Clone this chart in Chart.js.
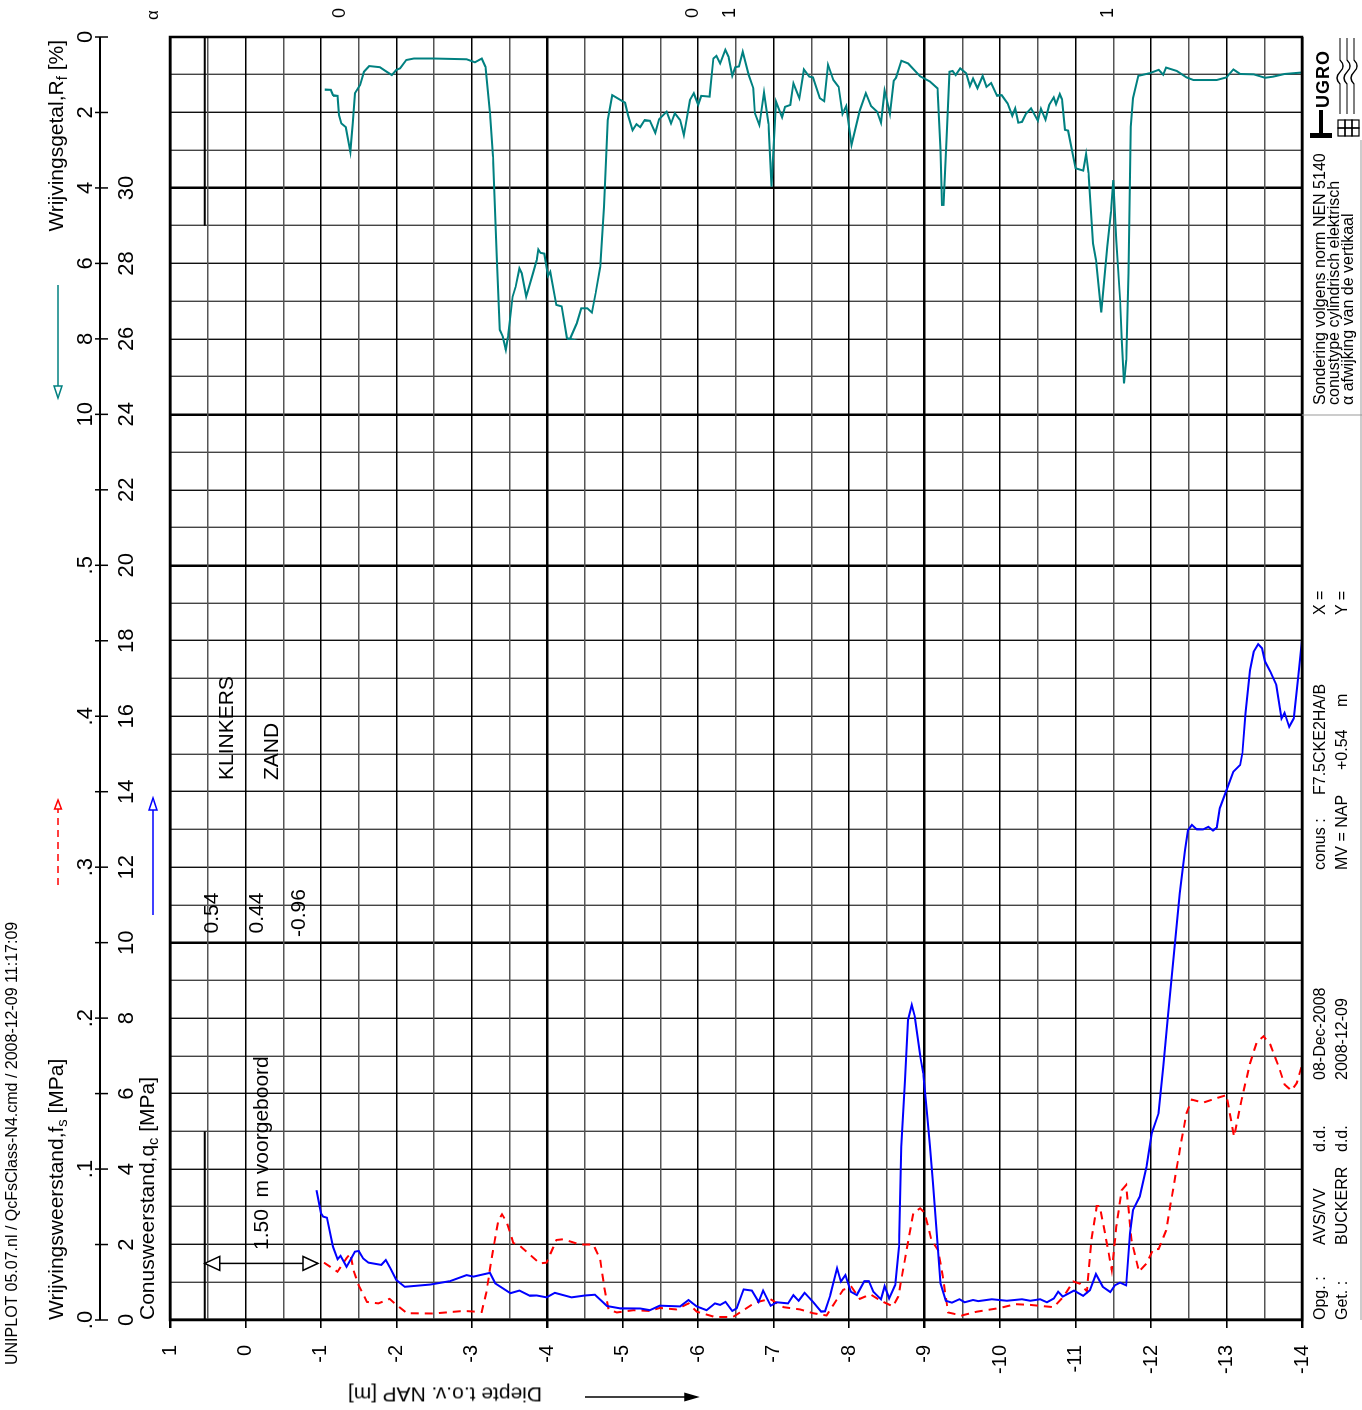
<!DOCTYPE html>
<html>
<head>
<meta charset="utf-8">
<script src="https://cdn.jsdelivr.net/npm/chart.js@4.4.0/dist/chart.umd.min.js"></script>
<style>
  html, body { margin: 0; padding: 0; background: #fff; overflow: hidden; }
  body { width: 1362px; height: 1410px; position: relative; }
  /* the sheet is laid out upright (1410 x 1362) and turned a quarter left */
  #page { position: absolute; left: 0; top: 0; width: 1410px; height: 1362px;
          transform-origin: 0 0; transform: translate(0, 1410px) rotate(-90deg);
          font-family: "Liberation Sans", Arial, sans-serif; color: #000; }
  #page canvas { position: absolute; left: 0; top: 0; }
  .t { position: absolute; white-space: pre; line-height: 1; transform: translateY(-50%); }
  .t sub { font-size: 70%; vertical-align: -0.3em; line-height: 0; }
  .f21 { font-size: 21px; }
  .f16 { font-size: 16px; }
</style>
</head>
<body>
<div id="page">
  <canvas id="cpt" width="1410" height="1362"></canvas>

  <div class="t" style="left:45px; top:12px; font-size:16px;">UNIPLOT 05.07.nl / QcFsClass-N4.cmd / 2008-12-09 11:17:09</div>

  <div class="t f21" style="right:40px; top:55px;">Wrijvingsgetal,R<sub>f</sub> [%]</div>
  <div class="t f21" style="left:90px; top:55px;">Wrijvingsweerstand,f<sub>s</sub> [MPa]</div>
  <div class="t f21" style="left:90px; top:146px;">Conusweerstand,q<sub>c</sub> [MPa]</div>
  <div class="t f21" style="left:15px; top:445px; transform: translate(-50%,-50%) rotate(-90deg);">Diepte t.o.v. NAP [m]</div>

  <div class="t f21" style="left:630px; top:225px;">KLINKERS</div>
  <div class="t f21" style="left:630px; top:270px;">ZAND</div>
  <div class="t f21" style="left:497px; top:210px; transform: translate(-50%,-50%);">0.54</div>
  <div class="t f21" style="left:497px; top:255px; transform: translate(-50%,-50%);">0.44</div>
  <div class="t f21" style="left:497px; top:297px; transform: translate(-50%,-50%);">-0.96</div>
  <div class="t f21" style="left:160px; top:260px;">1.50  m voorgeboord</div>

  <div class="t" style="left:1390px; top:152px; font-size:17px;">&alpha;</div>

  <!-- title block -->
  <div class="t f16" style="left:90px; top:1320px;">Opg. :</div>
  <div class="t f16" style="left:90px; top:1342px;">Get. :</div>
  <div class="t f16" style="left:165px; top:1320px;">AVS/VV</div>
  <div class="t f16" style="left:165px; top:1342px;">BUCKERR</div>
  <div class="t f16" style="left:258px; top:1320px;">d.d.</div>
  <div class="t f16" style="left:258px; top:1342px;">d.d.</div>
  <div class="t f16" style="left:330px; top:1320px;">08-Dec-2008</div>
  <div class="t f16" style="left:330px; top:1342px;">2008-12-09</div>
  <div class="t f16" style="left:540px; top:1320px;">conus :</div>
  <div class="t f16" style="left:540px; top:1342px;">MV = NAP</div>
  <div class="t f16" style="left:615px; top:1320px;">F7.5CKE2HA/B</div>
  <div class="t f16" style="left:640px; top:1342px;">+0.54</div>
  <div class="t f16" style="left:703px; top:1342px;">m</div>
  <div class="t f16" style="left:795px; top:1320px;">X =</div>
  <div class="t f16" style="left:795px; top:1342px;">Y =</div>
  <div class="t f16" style="left:1005px; top:1320px;">Sondering volgens norm NEN 5140</div>
  <div class="t f16" style="left:1005px; top:1334px;">conustype cylindrisch elektrisch</div>
  <div class="t f16" style="left:1005px; top:1348px;">&alpha; afwijking van de vertikaal</div>

  <svg style="position:absolute; left:1268px; top:1306px;" width="110" height="56" viewBox="0 0 110 56">
    <rect x="4" y="4" width="5" height="22" fill="#000"/>
    <rect x="4" y="13" width="28" height="4" fill="#000"/>
    <text x="34" y="23" font-family="Liberation Sans, Arial" font-weight="bold" font-size="18" letter-spacing="1">UGRO</text>
    <g fill="none" stroke="#000" stroke-width="1.2">
      <rect x="6" y="32" width="8" height="7"/><rect x="14" y="32" width="8" height="7"/>
      <rect x="6" y="39" width="8" height="7"/><rect x="14" y="39" width="8" height="7"/>
      <rect x="6" y="46" width="8" height="7"/><rect x="14" y="46" width="8" height="7"/>
      <path d="M28 34 H58 Q64 28 70 34 Q76 40 82 34 H104"/>
      <path d="M28 41 H58 Q64 35 70 41 Q76 47 82 41 H104"/>
      <path d="M28 48 H58 Q64 42 70 48 Q76 54 82 48 H104"/>
    </g>
  </svg>
</div>

<script>
// depth in m NAP, qc in MPa
const qcDepth = [-0.94, -1.00, -1.03, -1.08, -1.16, -1.22, -1.26, -1.34, -1.39, -1.45, -1.50, -1.56, -1.63, -1.80, -1.86, -1.92,
  -2.00, -2.11, -2.45, -2.71, -2.93, -3.02, -3.24, -3.31, -3.51, -3.63, -3.77, -3.86, -3.99, -4.10, -4.32, -4.50, -4.63, -4.79,
  -4.96, -5.05, -5.23, -5.36, -5.49, -5.76, -5.87, -5.98, -6.11, -6.22, -6.29, -6.36, -6.45, -6.51, -6.60, -6.71, -6.80, -6.86,
  -6.96, -7.04, -7.19, -7.26, -7.33, -7.41, -7.52, -7.63, -7.68, -7.75, -7.84, -7.89, -7.95, -8.02, -8.10, -8.20, -8.26, -8.32,
  -8.42, -8.47, -8.53, -8.61, -8.66, -8.69, -8.74, -8.78, -8.83, -8.87, -8.94, -8.98, -9.03, -9.07, -9.11, -9.16, -9.21, -9.28,
  -9.36, -9.46, -9.53, -9.64, -9.71, -9.89, -10.09, -10.29, -10.40, -10.53, -10.62, -10.71, -10.77, -10.83, -10.98, -11.10,
  -11.19, -11.27, -11.36, -11.46, -11.52, -11.59, -11.67, -11.72, -11.76, -11.85, -11.94, -12.01, -12.10, -12.16, -12.22,
  -12.32, -12.38, -12.45, -12.49, -12.54, -12.60, -12.69, -12.76, -12.82, -12.87, -12.91, -13.00, -13.09, -13.18, -13.21,
  -13.25, -13.31, -13.36, -13.42, -13.47, -13.51, -13.58, -13.66, -13.73, -13.77, -13.83, -13.89, -13.95, -14.00];
const qcValues = [3.44, 2.83, 2.74, 2.71, 1.94, 1.61, 1.70, 1.41, 1.59, 1.81, 1.83, 1.63, 1.52, 1.46, 1.59, 1.37,
  1.06, 0.88, 0.94, 1.03, 1.19, 1.15, 1.25, 0.97, 0.71, 0.78, 0.64, 0.65, 0.60, 0.72, 0.60, 0.65, 0.67, 0.37,
  0.31, 0.31, 0.30, 0.26, 0.38, 0.36, 0.53, 0.36, 0.26, 0.44, 0.40, 0.48, 0.24, 0.31, 0.81, 0.78, 0.48, 0.78,
  0.38, 0.47, 0.44, 0.66, 0.51, 0.72, 0.48, 0.22, 0.23, 0.66, 1.37, 1.02, 1.19, 0.75, 0.66, 1.03, 1.03, 0.75,
  0.55, 0.90, 0.57, 0.93, 1.94, 4.59, 6.36, 7.95, 8.35, 8.04, 7.00, 6.54, 5.48, 4.59, 3.62, 2.30, 0.97, 0.51,
  0.46, 0.55, 0.47, 0.53, 0.50, 0.55, 0.51, 0.55, 0.51, 0.55, 0.47, 0.57, 0.75, 0.62, 0.78, 0.64,
  0.79, 1.22, 0.88, 0.74, 0.92, 0.99, 0.92, 2.30, 2.91, 3.27, 4.06, 4.95, 5.48, 6.71, 8.00,
  10.07, 11.31, 12.45, 12.98, 13.12, 13.01, 13.00, 13.07, 12.97, 13.05, 13.56, 14.04, 14.53, 14.71, 15.02,
  16.08, 17.22, 17.71, 17.91, 17.80, 17.45, 17.18, 16.83, 15.94, 16.09, 15.72, 15.94, 17.05, 18.02];

// fs in MPa
const fsDepth = [-1.04, -1.22, -1.34, -1.39, -1.43, -1.50, -1.61, -1.76, -1.91, -2.00, -2.14, -2.49, -2.89, -3.13, -3.19,
  -3.28, -3.35, -3.40, -3.46, -3.55, -3.64, -3.90, -3.99, -4.12, -4.21, -4.43, -4.61, -4.70, -4.76, -4.81, -4.92, -5.14,
  -5.36, -5.49, -5.71, -5.87, -5.98, -6.22, -6.46, -6.60, -6.75, -6.95, -7.13, -7.35, -7.52, -7.70, -7.79, -7.92, -8.03,
  -8.14, -8.28, -8.41, -8.58, -8.65, -8.76, -8.85, -8.94, -9.00, -9.09, -9.18, -9.24, -9.31, -9.49, -9.69, -10.00, -10.20,
  -10.40, -10.71, -10.84, -10.97, -11.06, -11.15, -11.21, -11.28, -11.32, -11.39, -11.48, -11.54, -11.61, -11.67, -11.74,
  -11.84, -11.94, -12.03, -12.10, -12.20, -12.29, -12.38, -12.47, -12.54, -12.69, -12.87, -13.00, -13.10, -13.20, -13.31,
  -13.40, -13.49, -13.58, -13.69, -13.77, -13.86, -13.93, -14.00];
const fsValues = [0.038, 0.032, 0.041, 0.044, 0.033, 0.023, 0.012, 0.011, 0.014, 0.010, 0.0045, 0.0043, 0.006, 0.0053, 0.018,
  0.046, 0.066, 0.070, 0.065, 0.051, 0.049, 0.0375, 0.038, 0.053, 0.0535, 0.050, 0.050, 0.040, 0.020, 0.007, 0.005, 0.0065,
  0.006, 0.008, 0.007, 0.011, 0.0055, 0.002, 0.002, 0.0065, 0.0115, 0.014, 0.0085, 0.007, 0.0045, 0.003, 0.010, 0.020, 0.022,
  0.014, 0.017, 0.013, 0.009, 0.0155, 0.046, 0.071, 0.074, 0.071, 0.053, 0.046, 0.029, 0.005, 0.003, 0.0055, 0.008, 0.0105,
  0.010, 0.0085, 0.0155, 0.0255, 0.024, 0.019, 0.053, 0.0755, 0.0755, 0.0575, 0.033, 0.062, 0.086, 0.0895, 0.053,
  0.032, 0.0375, 0.047, 0.047, 0.0595, 0.086, 0.1125, 0.137, 0.146, 0.144, 0.147, 0.149, 0.1215, 0.146, 0.170,
  0.184, 0.188, 0.1825, 0.168, 0.156, 0.152, 0.157, 0.169];

// Rf in %
const rfDepth = [-1.05, -1.13, -1.16, -1.22, -1.24, -1.27, -1.33, -1.39, -1.42, -1.45, -1.52, -1.57, -1.64, -1.78, -1.87,
  -1.94, -2.00, -2.05, -2.13, -2.23, -2.49, -2.93, -3.04, -3.13, -3.18, -3.24, -3.28, -3.33, -3.37, -3.41, -3.45, -3.48,
  -3.54, -3.58, -3.63, -3.66, -3.72, -3.81, -3.86, -3.88, -3.91, -3.96, -4.01, -4.04, -4.12, -4.19, -4.26, -4.30, -4.39,
  -4.45, -4.53, -4.59, -4.64, -4.70, -4.75, -4.80, -4.86, -4.97, -5.03, -5.07, -5.13, -5.18, -5.23, -5.29, -5.36, -5.43,
  -5.48, -5.58, -5.64, -5.69, -5.76, -5.81, -5.89, -5.94, -6.00, -6.04, -6.15, -6.20, -6.24, -6.29, -6.36, -6.40, -6.45,
  -6.49, -6.54, -6.59, -6.67, -6.73, -6.75, -6.81, -6.87, -6.93, -6.97, -7.03, -7.11, -7.15, -7.22, -7.26, -7.34, -7.40,
  -7.47, -7.52, -7.61, -7.67, -7.72, -7.79, -7.86, -7.91, -7.96, -8.03, -8.14, -8.22, -8.29, -8.37, -8.42, -8.47, -8.54,
  -8.59, -8.62, -8.69, -8.78, -8.94, -9.07, -9.17, -9.21, -9.23, -9.25, -9.29, -9.33, -9.37, -9.41, -9.47, -9.55, -9.60,
  -9.64, -9.70, -9.77, -9.82, -9.88, -9.96, -10.02, -10.10, -10.16, -10.20, -10.24, -10.29, -10.34, -10.41, -10.50, -10.54,
  -10.60, -10.65, -10.71, -10.74, -10.79, -10.82, -10.86, -10.90, -11.00, -11.10, -11.14, -11.17, -11.23, -11.27, -11.34,
  -11.42, -11.47, -11.50, -11.54, -11.59, -11.61, -11.64, -11.67, -11.70, -11.73, -11.76, -11.83, -11.98, -12.10, -12.16,
  -12.20, -12.34, -12.47, -12.56, -12.87, -13.00, -13.09, -13.18, -13.36, -13.51, -13.62, -13.77, -14.00];
const rfValues = [1.39, 1.40, 1.54, 1.56, 2.07, 2.29, 2.39, 3.04, 2.29, 1.49, 1.27, 0.92, 0.77, 0.80, 0.92,
  1.01, 0.87, 0.83, 0.61, 0.57, 0.57, 0.59, 0.67, 0.57, 0.79, 2.02, 3.17, 5.82, 7.76, 7.94, 8.29, 7.94,
  6.88, 6.62, 6.13, 6.26, 6.88, 6.26, 5.91, 5.63, 5.72, 5.74, 6.33, 6.22, 7.10, 7.14, 7.98, 8.00, 7.59,
  7.19, 7.19, 7.30, 6.79, 6.09, 4.50, 2.20, 1.54, 1.67, 1.74, 2.07, 2.47, 2.31, 2.39, 2.20, 2.22, 2.54,
  2.18, 1.98, 2.29, 2.02, 2.20, 2.60, 1.67, 1.49, 1.80, 1.56, 1.58, 0.57, 0.50, 0.70, 0.34, 0.52, 1.03,
  0.80, 0.78, 0.39, 1.01, 1.36, 2.02, 2.33, 1.47, 2.30, 3.97, 1.71, 2.13, 1.85, 1.80, 1.23, 1.62, 0.86,
  1.05, 1.07, 1.62, 1.70, 0.74, 1.14, 1.32, 2.04, 1.83, 2.86, 1.95, 1.49, 1.83, 1.98, 2.27, 1.42, 2.04,
  1.16, 1.08, 0.63, 0.70, 1.04, 1.18, 1.36, 2.99, 4.45, 4.45, 2.73, 0.92, 0.90, 1.01, 0.83, 0.96, 1.30,
  1.10, 1.36, 1.03, 1.32, 1.22, 1.56, 1.54, 1.76, 2.09, 1.89, 2.27, 2.25, 2.04, 1.89, 2.22, 1.90,
  2.19, 1.80, 1.60, 1.78, 1.51, 1.65, 2.46, 2.48, 3.48, 3.54, 3.10, 3.60, 5.47, 5.91, 7.30,
  5.56, 4.63, 3.79, 5.38, 6.97, 8.03, 9.18, 8.56, 6.26, 2.38, 1.62, 1.03, 0.96, 0.87, 1.00,
  0.81, 0.90, 1.07, 1.14, 1.14, 1.07, 0.86, 0.98, 0.99, 1.08, 1.05, 0.98, 0.94];

const qcTicks = [0, 2, 4, 6, 8, 10, 12, 14, 16, 18, 20, 22, 24, 26, 28, 30];
const fsTicks = [0, 0.1, 0.2, 0.3, 0.4, 0.5];
const fsTickLabels = ['.0', '.1', '.2', '.3', '.4', '.5'];
const rfTicks = [0, 2, 4, 6, 8, 10];

const groundLevel = 0.54;      // MV
const predrillBottom = -0.96;  // 1.50 m voorgeboord
const alphaDepths = [-1.25, -5.93, -6.42, -11.43];
const alphaValues = ['0', '0', '1', '1'];

const FONT = '"Liberation Sans", Arial, sans-serif';

function openHead(ctx, tx, ty, dx, dy, len, half) {
  const bx = tx - dx * len, by = ty - dy * len;
  ctx.beginPath();
  ctx.moveTo(tx, ty);
  ctx.lineTo(bx - dy * half, by + dx * half);
  ctx.lineTo(bx + dy * half, by - dx * half);
  ctx.closePath();
  ctx.fill();
  ctx.stroke();
}

const sheetDecor = {
  id: 'sheetDecor',
  afterDraw(chart) {
    const { ctx, chartArea: a, scales } = chart;
    const xq = scales.xq, xf = scales.xf, xr = scales.xr, y = scales.y;
    ctx.save();
    ctx.strokeStyle = '#000';
    ctx.fillStyle = '#000';

    // frame
    ctx.lineWidth = 2.5;
    ctx.strokeRect(a.left, a.top, a.right - a.left, a.bottom - a.top);

    // value axis above the plot
    ctx.lineWidth = 2;
    ctx.beginPath();
    ctx.moveTo(xq.getPixelForValue(0), 100);
    ctx.lineTo(xq.getPixelForValue(34), 100);
    ctx.stroke();
    ctx.lineWidth = 1.5;
    for (let q = 0; q <= 34; q += 2) {
      const p = xq.getPixelForValue(q);
      ctx.beginPath(); ctx.moveTo(p, 95); ctx.lineTo(p, 108); ctx.stroke();
    }
    ctx.font = '22px ' + FONT;
    ctx.textAlign = 'center';
    ctx.textBaseline = 'middle';
    qcTicks.forEach(q => ctx.fillText(String(q), xq.getPixelForValue(q), 127));
    fsTicks.forEach((f, i) => ctx.fillText(fsTickLabels[i], xf.getPixelForValue(f), 86));
    rfTicks.forEach(r => ctx.fillText(String(r), xr.getPixelForValue(r), 86));

    // alpha column
    ctx.font = '18px ' + FONT;
    alphaDepths.forEach((d, i) => ctx.fillText(alphaValues[i], 1397, y.getPixelForValue(d)));

    // ground level marks
    const gl = y.getPixelForValue(groundLevel);
    ctx.lineWidth = 2;
    ctx.beginPath();
    ctx.moveTo(xq.getPixelForValue(0), gl); ctx.lineTo(xq.getPixelForValue(5), gl);
    ctx.moveTo(xr.getPixelForValue(0), gl); ctx.lineTo(xr.getPixelForValue(5), gl);
    ctx.stroke();

    // predrill arrow
    const px = xq.getPixelForValue(1.5);
    const pb = y.getPixelForValue(predrillBottom);
    ctx.lineWidth = 1.5;
    ctx.beginPath(); ctx.moveTo(px, gl); ctx.lineTo(px, pb); ctx.stroke();
    ctx.fillStyle = '#fff';
    openHead(ctx, px, gl, 0, -1, 15, 7);
    openHead(ctx, px, pb, 0, 1, 15, 7);

    // legend arrows next to the axis titles
    ctx.lineWidth = 1.5;
    ctx.strokeStyle = '#008080';
    ctx.beginPath(); ctx.moveTo(1125, 58); ctx.lineTo(1024, 58); ctx.stroke();
    openHead(ctx, 1012, 58, -1, 0, 12, 4);

    ctx.strokeStyle = '#ff0000';
    ctx.setLineDash([7, 5]);
    ctx.beginPath(); ctx.moveTo(525, 58); ctx.lineTo(601, 58); ctx.stroke();
    ctx.setLineDash([]);
    openHead(ctx, 610, 58, 1, 0, 9, 3.5);

    ctx.strokeStyle = '#0000ff';
    ctx.beginPath(); ctx.moveTo(495, 153); ctx.lineTo(600, 153); ctx.stroke();
    openHead(ctx, 612, 153, 1, 0, 12, 4);

    // depth direction arrow
    ctx.strokeStyle = '#000';
    ctx.fillStyle = '#000';
    ctx.lineWidth = 1.5;
    ctx.beginPath(); ctx.moveTo(13, 585); ctx.lineTo(13, 690); ctx.stroke();
    openHead(ctx, 13, 697, 0, 1, 12, 3.5);

    // title block rules
    ctx.lineWidth = 1;
    ctx.strokeStyle = '#999';
    ctx.beginPath();
    ctx.moveTo(995, a.bottom); ctx.lineTo(995, 1362);
    ctx.moveTo(90, 1361); ctx.lineTo(1270, 1361);
    ctx.stroke();
    ctx.restore();
  }
};

function pts(depths, values) {
  return depths.map((d, i) => ({ x: values[i], y: d }));
}

const isMajorQc = v => v % 10 === 0 || v === 24;

new Chart(document.getElementById('cpt'), {
  type: 'scatter',
  data: {
    datasets: [
      { label: 'qc', data: pts(qcDepth, qcValues), xAxisID: 'xq', yAxisID: 'y',
        showLine: true, borderColor: '#0000ff', borderWidth: 2, pointRadius: 0 },
      { label: 'fs', data: pts(fsDepth, fsValues), xAxisID: 'xf', yAxisID: 'y',
        showLine: true, borderColor: '#ff0000', borderWidth: 2, borderDash: [8, 6], pointRadius: 0 },
      { label: 'Rf', data: pts(rfDepth, rfValues), xAxisID: 'xr', yAxisID: 'y',
        showLine: true, borderColor: '#008080', borderWidth: 2, pointRadius: 0 }
    ]
  },
  options: {
    responsive: false,
    animation: false,
    devicePixelRatio: 1,
    layout: { padding: { left: 30, top: 170, right: 37, bottom: 60 } },
    plugins: { legend: { display: false }, tooltip: { enabled: false } },
    scales: {
      xq: {
        type: 'linear', position: 'top', min: 0, max: 34,
        ticks: { display: false, stepSize: 1, autoSkip: false },
        border: { display: false },
        grid: {
          drawTicks: false,
          color: c => isMajorQc(c.tick.value) ? '#000' : (c.tick.value % 2 === 0 ? '#111' : '#444'),
          lineWidth: c => isMajorQc(c.tick.value) ? 2.5 : 1.4
        },
        afterFit: s => { s.height = 0; }
      },
      xf: { type: 'linear', display: false, min: 0, max: 0.85 },
      xr: { type: 'linear', display: false, min: 0, max: 34, reverse: true },
      y: {
        type: 'linear', position: 'left', min: -14, max: 1,
        ticks: {
          stepSize: 0.5, autoSkip: false, padding: 17, color: '#000',
          font: { family: FONT, size: 20 },
          callback: v => Number.isInteger(v) ? String(v) : ''
        },
        border: { display: false },
        grid: {
          tickLength: 8,
          color: c => Number.isInteger(c.tick.value) ? '#000' : '#555',
          tickColor: c => Number.isInteger(c.tick.value) ? '#000' : 'rgba(0,0,0,0)',
          lineWidth: c => ((c.tick.value - 1) % 5 === 0) ? 2.5 : (Number.isInteger(c.tick.value) ? 1.6 : 1.4)
        },
        afterFit: s => { s.width = 60; }
      }
    }
  },
  plugins: [sheetDecor]
});
</script>
</body>
</html>
